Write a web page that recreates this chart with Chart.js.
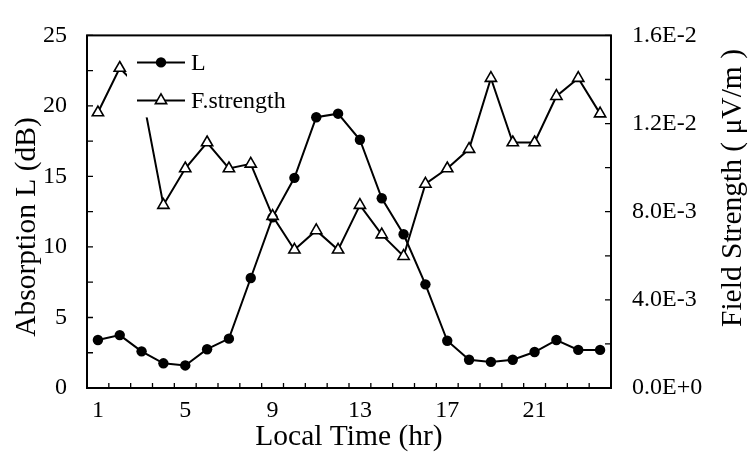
<!DOCTYPE html>
<html>
<head>
<meta charset="utf-8">
<title>Absorption L and Field Strength vs Local Time</title>
<script src="https://cdn.jsdelivr.net/npm/chart.js@4.4.0/dist/chart.umd.min.js"></script>
<style>
  html, body { margin: 0; padding: 0; background: #fff; }
  #chart { display: block; }
</style>
</head>
<body>
<canvas id="chart" width="751" height="455"></canvas>
<script>
// Data
const hours = [1, 2, 3, 4, 5, 6, 7, 8, 9, 10, 11, 12, 13, 14, 15, 16, 17, 18, 19, 20, 21, 22, 23, 24];
const absorption = [3.4, 3.75, 2.6, 1.75, 1.6, 2.75, 3.5, 7.8, 12.1, 14.9, 19.2, 19.45,
                    17.6, 13.45, 10.9, 7.35, 3.35, 2.0, 1.85, 2.0, 2.55, 3.4, 2.7, 2.7];
const fieldStrength = [0.0125, 0.01452, 0.0135, 0.0083, 0.00996, 0.01114, 0.00996, 0.01017,
                       0.0078, 0.00627, 0.00715, 0.00627, 0.0083, 0.00696, 0.00598, 0.00926,
                       0.00996, 0.01084, 0.01406, 0.01114, 0.01114, 0.01324, 0.01406, 0.01245];
const hourTicks = [1, 5, 9, 13, 17, 21];
const absorptionTicks = [0, 5, 10, 15, 20, 25];
const fieldTicks = [0, 0.004, 0.008, 0.012, 0.016];
const seriesNames = ['L', 'F.strength'];
const xTitle = 'Local Time (hr)';
const leftTitle = 'Absorption L (dB)';
const rightTitle = 'Field Strength ( \u03bcV/m )';

const FONT = 'Liberation Serif, Times New Roman, serif';
const markerL = { pointStyle: 'circle', radius: 5.2, borderWidth: 0, rotation: 0 };
const markerF = { pointStyle: 'triangle', radius: 6.5, borderWidth: 1.6, rotation: 0 };

/**
 * Frame, inward tick marks, axis titles and the boxed legend
 */
const framePlugin = {
    id: 'frame',
    beforeDatasetsDraw(chart) {
        const ctx = chart.ctx;
        const a = chart.chartArea;
        const sx = chart.scales.x, sy = chart.scales.y, sy1 = chart.scales.y1;
        ctx.save();
        ctx.strokeStyle = '#000';
        ctx.lineWidth = 2;
        ctx.strokeRect(a.left, a.top, a.right - a.left, a.bottom - a.top);

        ctx.lineWidth = 1.3;
        ctx.beginPath();
        // x: ticks between hours
        for (let h = 0.5; h <= 24.5; h += 1) {
            const px = sx.getPixelForValue(h);
            ctx.moveTo(px, a.bottom);
            ctx.lineTo(px, a.bottom - 5);
        }
        // left: every 2.5 dB
        for (let v = 0; v <= 25; v += 2.5) {
            const py = sy.getPixelForValue(v);
            ctx.moveTo(a.left, py);
            ctx.lineTo(a.left + 6, py);
        }
        // right: every 2E-3
        for (let i = 0; i <= 8; i++) {
            const py = sy1.getPixelForValue(i * 0.002);
            ctx.moveTo(a.right, py);
            ctx.lineTo(a.right - 6, py);
        }
        ctx.stroke();
        ctx.restore();
    },
    afterDatasetsDraw(chart) {
        const ctx = chart.ctx;
        const a = chart.chartArea;
        ctx.save();
        // legend sits inside the plot on a white box
        ctx.fillStyle = '#fff';
        ctx.fillRect(a.left + 40, a.top + 8, 175, 74);

        const rows = [
            { name: seriesNames[0], y: a.top + 27, marker: markerL, fill: '#000' },
            { name: seriesNames[1], y: a.top + 65, marker: markerF, fill: '#fff' }
        ];
        rows.forEach(r => {
            ctx.strokeStyle = '#000';
            ctx.lineWidth = 2;
            ctx.beginPath();
            ctx.moveTo(a.left + 50, r.y);
            ctx.lineTo(a.left + 98, r.y);
            ctx.stroke();
            ctx.fillStyle = r.fill;
            ctx.lineWidth = r.marker.borderWidth;
            Chart.helpers.drawPoint(ctx, r.marker, a.left + 74, r.y);
            ctx.fillStyle = '#000';
            ctx.font = '24px ' + FONT;
            ctx.textAlign = 'left';
            ctx.textBaseline = 'middle';
            ctx.fillText(r.name, a.left + 104, r.y + 1);
        });
        ctx.restore();
    },
    afterDraw(chart) {
        const ctx = chart.ctx;
        const a = chart.chartArea;
        ctx.save();
        ctx.fillStyle = '#000';
        ctx.font = '29.5px ' + FONT;
        ctx.textAlign = 'center';
        ctx.textBaseline = 'alphabetic';
        ctx.fillText(xTitle, (a.left + a.right) / 2, 445);

        ctx.translate(35, 227);
        ctx.rotate(-Math.PI / 2);
        ctx.fillText(leftTitle, 0, 0);
        ctx.restore();

        ctx.save();
        ctx.fillStyle = '#000';
        ctx.font = '29.5px ' + FONT;
        ctx.textAlign = 'center';
        ctx.translate(741, 188);
        ctx.rotate(-Math.PI / 2);
        ctx.fillText(rightTitle, 0, 0);
        ctx.restore();
    }
};

function tickFont() {
    return { family: FONT, size: 24 };
}

/**
 * Build the chart
 */
function createChart() {
    const ctx = document.getElementById('chart').getContext('2d');
    new Chart(ctx, {
        type: 'line',
        data: {
            datasets: [{
                label: seriesNames[0],
                data: hours.map((h, i) => ({ x: h, y: absorption[i] })),
                yAxisID: 'y',
                borderColor: '#000',
                borderWidth: 2,
                pointStyle: 'circle',
                pointRadius: markerL.radius,
                pointBackgroundColor: '#000',
                pointBorderColor: '#000',
                pointBorderWidth: 0,
                order: 1
            }, {
                label: seriesNames[1],
                data: hours.map((h, i) => ({ x: h, y: fieldStrength[i] })),
                yAxisID: 'y1',
                borderColor: '#000',
                borderWidth: 2,
                pointStyle: 'triangle',
                pointRadius: markerF.radius,
                pointBackgroundColor: '#fff',
                pointBorderColor: '#000',
                pointBorderWidth: markerF.borderWidth,
                order: 0
            }]
        },
        options: {
            responsive: false,
            animation: false,
            layout: { padding: { top: 23, left: 0, right: 0, bottom: 0 } },
            plugins: { legend: { display: false }, tooltip: { enabled: false } },
            scales: {
                x: {
                    type: 'linear',
                    min: 0.5,
                    max: 24.5,
                    afterBuildTicks: s => { s.ticks = hourTicks.map(v => ({ value: v })); },
                    afterFit: s => { s.height = 67; },
                    grid: { display: false, drawTicks: false },
                    border: { display: false },
                    ticks: { color: '#000', font: tickFont(), padding: 8, autoSkip: false, maxRotation: 0 }
                },
                y: {
                    position: 'left',
                    min: 0,
                    max: 25,
                    afterBuildTicks: s => { s.ticks = absorptionTicks.map(v => ({ value: v })); },
                    afterFit: s => { s.width = 87; },
                    grid: { display: false, drawTicks: false },
                    border: { display: false },
                    ticks: { color: '#000', font: tickFont(), padding: 20 }
                },
                y1: {
                    position: 'right',
                    min: 0,
                    max: 0.016,
                    afterBuildTicks: s => { s.ticks = fieldTicks.map(v => ({ value: v })); },
                    afterFit: s => { s.width = 140; },
                    grid: { display: false, drawTicks: false },
                    border: { display: false },
                    ticks: {
                        color: '#000',
                        font: tickFont(),
                        padding: 21,
                        callback: v => Number(v).toExponential(1).replace('e', 'E')
                    }
                }
            }
        },
        plugins: [framePlugin]
    });
}

document.addEventListener('DOMContentLoaded', createChart);
</script>
</body>
</html>
